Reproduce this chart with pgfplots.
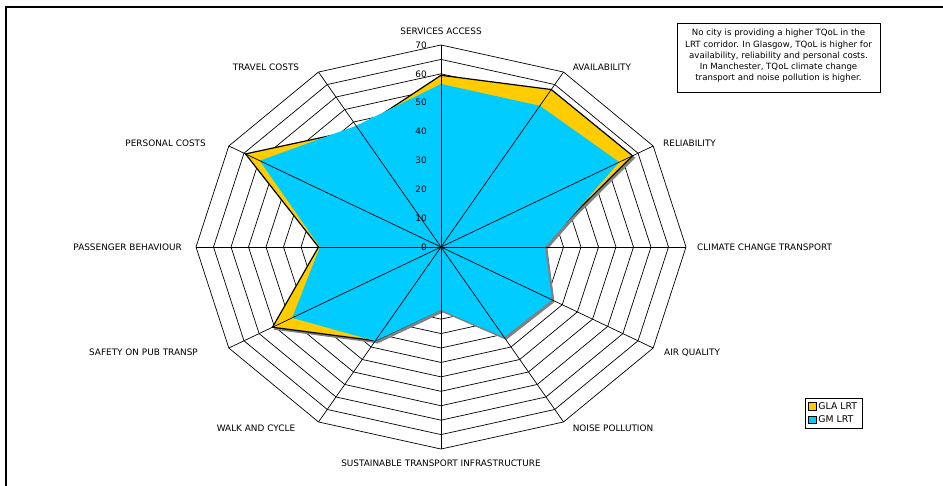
\documentclass[border=0pt]{standalone}
\usepackage{pgfplots}
\pgfplotsset{compat=1.18}
\usepackage{pgfplotstable}
\usepackage{fontspec}
\setmainfont{DejaVu Sans}
\definecolor{glaY}{HTML}{FFCC00}
\definecolor{gmB}{HTML}{00CCFF}
\definecolor{shad}{HTML}{808080}
% angle (deg), GLA LRT, GM LRT
\pgfplotstableread{
a gla gm
90 59.5 56.5
60 63 56.5
30 63.2 58.8
0 28.5 29.7
-30 36.3 36.6
-60 33 36.1
-90 21.5 21.8
-120 37.5 37.6
-150 55.6 49.1
180 35 34.6
150 64.5 59.8
120 47 48.5
90 59.5 56.5
}\radar

\begin{document}
\begin{tikzpicture}[lab/.style={font=\fontsize{8.9}{10}\selectfont, inner sep=0pt, text height=6.5pt, text depth=0pt}]
\begin{axis}[
  x=3.5pt, y=2.886pt,
  xmin=-126, xmax=143.4286, ymin=-82.4671, ymax=85.5856,
  enlargelimits=false, hide axis, clip=false,
  legend style={at={(axis cs:104,-52.32)}, anchor=north west, font=\fontsize{9.3}{10}\selectfont,
    draw=black, line width=0.6pt, inner xsep=3pt, inner ysep=2pt, row sep=1pt, cells={anchor=west}},
  legend image code/.code={\draw[#1,draw=black,line width=0.5pt] (0pt,-3.8pt) rectangle (7.6pt,3.8pt);},
]
% polygon grid rings
\pgfplotsinvokeforeach{5,10,...,70}{
  \draw[black, line width=0.7pt] (axis cs:0,#1) -- (axis cs:{#1*cos(60)},{#1*sin(60)}) -- (axis cs:{#1*cos(30)},{#1*sin(30)})
   -- (axis cs:#1,0) -- (axis cs:{#1*cos(30)},{-#1*sin(30)}) -- (axis cs:{#1*cos(60)},{-#1*sin(60)})
   -- (axis cs:0,-#1) -- (axis cs:{-#1*cos(60)},{-#1*sin(60)}) -- (axis cs:{-#1*cos(30)},{-#1*sin(30)})
   -- (axis cs:-#1,0) -- (axis cs:{-#1*cos(30)},{#1*sin(30)}) -- (axis cs:{-#1*cos(60)},{#1*sin(60)}) -- cycle;
}
% shadows
\addplot[forget plot, draw=shad, fill=shad, line width=1pt, xshift=2pt, yshift=-2pt]
  table[x expr={\thisrow{gla}*cos(\thisrow{a})}, y expr={\thisrow{gla}*sin(\thisrow{a})}] {\radar};
\addplot[forget plot, draw=shad, fill=shad, line width=1pt, xshift=2pt, yshift=-2pt]
  table[x expr={\thisrow{gm}*cos(\thisrow{a})}, y expr={\thisrow{gm}*sin(\thisrow{a})}] {\radar};
% series
\addplot[draw=black, line width=1.2pt, fill=glaY]
  table[x expr={\thisrow{gla}*cos(\thisrow{a})}, y expr={\thisrow{gla}*sin(\thisrow{a})}] {\radar};
\addplot[draw=none, fill=gmB]
  table[x expr={\thisrow{gm}*cos(\thisrow{a})}, y expr={\thisrow{gm}*sin(\thisrow{a})}] {\radar};
% spokes
\pgfplotsinvokeforeach{0,30,...,330}{
  \draw[black, line width=0.7pt] (axis cs:0,0) -- (axis cs:{70*cos(#1)},{70*sin(#1)});
}
\legend{GLA LRT, GM LRT}
\end{axis}
\begin{scope}[shift={(current axis.north west)}, x=1pt, y=-1pt]
  % frame
  \draw[line width=2pt] (6,500) -- (6,7) -- (960,7);
  % radial tick labels
  \foreach \k in {0,10,...,70} \node[lab, anchor=east] at (427,{247-\k*2.886}) {\k};
  % category labels
  \node[lab] at (441,31) {SERVICES ACCESS};
  \node[lab] at (602,67) {AVAILABILITY};
  \node[lab, anchor=west] at (663,143) {RELIABILITY};
  \node[lab, anchor=west] at (697,247) {CLIMATE CHANGE TRANSPORT};
  \node[lab, anchor=west] at (664,352) {AIR QUALITY};
  \node[lab] at (613,428) {NOISE POLLUTION};
  \node[lab] at (441,463) {SUSTAINABLE TRANSPORT INFRASTRUCTURE};
  \node[lab] at (256,428) {WALK AND CYCLE};
  \node[lab, anchor=east] at (198,352) {SAFETY ON PUB TRANSP};
  \node[lab, anchor=east] at (182,247) {PASSENGER BEHAVIOUR};
  \node[lab, anchor=east] at (206,143) {PERSONAL COSTS};
  \node[lab] at (266,67) {TRAVEL COSTS};
  % note box
  \draw[line width=0.8pt] (677,23) rectangle (880,92);
  \node[align=center, inner sep=0pt, font=\fontsize{8.6}{11.2}\selectfont] at (778.5,56)
    {No city is providing a higher TQoL in the\\LRT corridor. In Glasgow, TQoL is higher for\\availability, reliability and personal costs.\\In Manchester, TQoL climate change\\transport and noise pollution is higher.};
\end{scope}
\pgfresetboundingbox
\path[use as bounding box] (current axis.south west) rectangle (current axis.north east);
\end{tikzpicture}
\end{document}
